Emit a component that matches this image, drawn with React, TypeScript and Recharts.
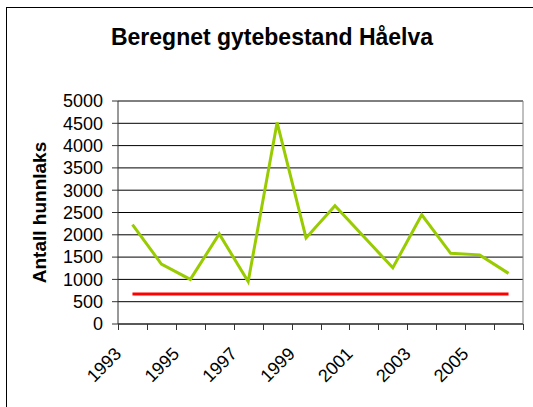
import { LineChart, Line, XAxis, YAxis, CartesianGrid } from 'recharts';

const years = ['1993', '1994', '1995', '1996', '1997', '1998', '1999', '2000', '2001', '2002', '2003', '2004', '2005', '2006'];
const gytebestand = [2230, 1345, 1000, 2020, 950, 4520, 1930, 2650, 1955, 1260, 2450, 1585, 1550, 1135];
const gytebestandsmaal = [670, 670, 670, 670, 670, 670, 670, 670, 670, 670, 670, 670, 670, 670];
const yTicks = [0, 500, 1000, 1500, 2000, 2500, 3000, 3500, 4000, 4500, 5000];

const FONT = '"Liberation Sans", Arial, sans-serif';
const W = 533;
const H = 407;
const MARGIN = { top: 101, right: 10, bottom: 0, left: 0 };
const Y_AXIS_W = 118;
const PLOT_H = 223;
const PLOT_W = W - MARGIN.left - MARGIN.right - Y_AXIS_W;
const AXIS_Y = MARGIN.top + PLOT_H;
const TICK_SIZE = 6;

const data = years.map((year, i) => ({
  year,
  bestand: gytebestand[i],
  maal: gytebestandsmaal[i],
}));

// label under every other year, rotated
function YearTick(props: any) {
  const { x, payload, index } = props;
  if (index % 2 !== 0) return <g />;
  const tx = x - 10;
  const ty = AXIS_Y + 31;
  return (
    <text
      x={tx}
      y={ty}
      textAnchor="end"
      transform={`rotate(-45 ${tx} ${ty})`}
      style={{ fontSize: 18, fontFamily: FONT }}
      fill="#000"
    >
      {payload.value}
    </text>
  );
}

// Excel style tick marks between the categories (axis decoration only)
function BoundaryMarks() {
  const band = PLOT_W / years.length;
  const marks = [...years.map((_, i) => i), years.length];
  return (
    <svg
      width={W}
      height={H}
      style={{ position: 'absolute', left: 0, top: 0, pointerEvents: 'none', overflow: 'visible' }}
    >
      {marks.map((i) => {
        const mx = Math.round(Y_AXIS_W + i * band) + 0.5;
        return (
          <line
            key={i}
            x1={mx}
            x2={mx}
            y1={AXIS_Y}
            y2={AXIS_Y + TICK_SIZE}
            stroke="#333"
            strokeWidth={1}
          />
        );
      })}
    </svg>
  );
}

export default function App() {
  return (
    <div style={{ position: 'absolute', left: 0, top: 0, width: W, height: H, overflow: 'hidden', background: '#fff' }}>
      <div
        style={{
          position: 'absolute',
          left: 6,
          top: 7,
          width: 600,
          height: 500,
          border: '1px solid #000',
        }}
      />
      <div
        style={{
          position: 'absolute',
          left: 0,
          top: 26,
          width: 544,
          textAlign: 'center',
          fontFamily: FONT,
          fontWeight: 'bold',
          fontSize: 23,
          lineHeight: '23px',
          color: '#000',
          whiteSpace: 'nowrap',
        }}
      >
        Beregnet gytebestand Håelva
      </div>
      <div style={{ position: 'absolute', left: 0, top: 0 }}>
        <LineChart width={W} height={H} data={data} margin={MARGIN}>
          <CartesianGrid vertical={false} stroke="#000" strokeWidth={1} />
          <CartesianGrid
            horizontal={false}
            stroke="#808080"
            verticalCoordinatesGenerator={({ offset }: any) => [offset.left + offset.width]}
          />
          <XAxis
            dataKey="year"
            scale="band"
            height={H - AXIS_Y}
            interval={0}
            tickLine={false}
            axisLine={{ stroke: '#333' }}
            tick={<YearTick />}
          />
          <YAxis
            width={Y_AXIS_W}
            domain={[0, 5000]}
            ticks={yTicks}
            interval={0}
            tickSize={TICK_SIZE}
            tickMargin={9}
            axisLine={{ stroke: '#333' }}
            tickLine={{ stroke: '#333' }}
            tick={{ fontSize: 18, fontFamily: FONT, fill: '#000' }}
            label={{
              value: 'Antall hunnlaks',
              angle: -90,
              position: 'center',
              dx: -20,
              style: { fontSize: 19, fontWeight: 'bold', fontFamily: FONT, fill: '#000' },
            }}
          />
          <Line
            type="linear"
            dataKey="bestand"
            stroke="#99cc00"
            strokeWidth={3}
            dot={false}
            isAnimationActive={false}
          />
          <Line
            type="linear"
            dataKey="maal"
            stroke="#ff0000"
            strokeWidth={3}
            dot={false}
            isAnimationActive={false}
          />
        </LineChart>
      </div>
      <BoundaryMarks />
    </div>
  );
}
